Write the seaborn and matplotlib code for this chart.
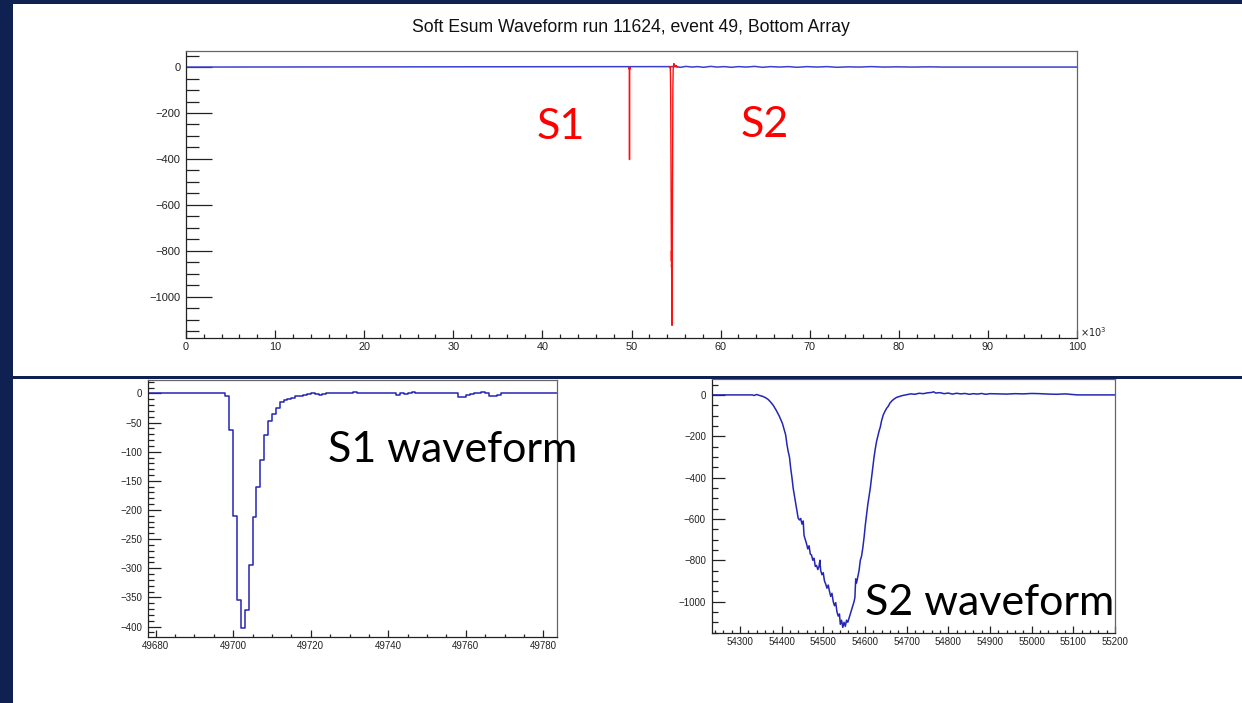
import matplotlib
matplotlib.use("Agg")
import numpy as np
import pandas as pd
import matplotlib.pyplot as plt
import seaborn as sns
from matplotlib.patches import Rectangle
from matplotlib.ticker import MultipleLocator, FixedLocator

# ---------------- data ----------------
title = "Soft Esum Waveform run 11624, event 49, Bottom Array"

# S1 waveform (sample time, amplitude), 1-sample bins
s1_time = [49678, 49680, 49681, 49698, 49699, 49700, 49701, 49702, 49703, 49704,
           49705, 49706, 49707, 49708, 49709, 49710, 49711, 49712, 49713, 49714,
           49715, 49716, 49717, 49718, 49719, 49720, 49721, 49722, 49723, 49724,
           49731, 49732, 49742, 49743, 49744, 49745, 49746, 49747, 49754, 49755,
           49758, 49759, 49760, 49761, 49762, 49764, 49765, 49766, 49768, 49769, 49784]
s1_amp = [0, 1, 0, -5, -62, -210, -355, -402, -372, -295,
          -212, -160, -115, -72, -47, -35, -25, -15, -12, -9,
          -8, -5, -4, -2, -1, 0, -1, -2, -1, 0,
          2, 0, -2, 0, -1, 0, 2, 0, 1, 0,
          -7, -6, -3, -1, 0, 2, 0, -4, -2, 0, 0]

# S2 waveform (sample time, amplitude)
s2_time = [54232, 54330, 54334, 54340, 54345, 54350, 54356, 54362, 54368, 54374,
           54380, 54386, 54390, 54394, 54398, 54402, 54406, 54410, 54413, 54416,
           54419, 54422, 54425, 54428, 54431, 54434, 54437, 54440, 54443, 54446,
           54449, 54452, 54454, 54457, 54460, 54463, 54466, 54469, 54472, 54475,
           54478, 54481, 54484, 54487, 54490, 54492, 54494, 54497, 54500, 54503,
           54506, 54509, 54512, 54515, 54518, 54521, 54524, 54527, 54530, 54533,
           54536, 54539, 54541, 54544, 54547, 54550, 54553, 54556, 54559, 54562,
           54565, 54568, 54571, 54574, 54576, 54578, 54580, 54583, 54586, 54589,
           54592, 54595, 54598, 54601, 54604, 54607, 54610, 54613, 54616, 54619,
           54622, 54625, 54628, 54631, 54634, 54637, 54640, 54644, 54648, 54652,
           54656, 54660, 54665, 54670, 54676, 54682, 54690, 54700, 54710, 54720,
           54730, 54740, 54750, 54760, 54765, 54770, 54780, 54790, 54800, 54810,
           54820, 54830, 54840, 54850, 54860, 54870, 54880, 54890, 54900, 54920,
           54940, 54960, 54980, 55000, 55020, 55040, 55060, 55080, 55100, 55110, 55200]
s2_amp = [0, 0, -3, 2, -1, -4, -8, -14, -22, -35,
          -50, -70, -85, -100, -118, -137, -165, -194, -240, -274,
          -300, -355, -400, -452, -490, -525, -560, -597, -605, -598,
          -625, -610, -680, -700, -720, -745, -730, -770, -775, -800,
          -790, -830, -825, -845, -830, -800, -850, -870, -860, -900,
          -915, -935, -920, -950, -975, -960, -1000, -1020, -1005, -1050,
          -1070, -1060, -1110, -1090, -1125, -1100, -1120, -1090, -1100, -1080,
          -1060, -1040, -1020, -1000, -980, -890, -910, -880, -850, -800,
          -780, -740, -690, -630, -580, -530, -490, -450, -400, -350,
          -300, -260, -225, -200, -175, -155, -125, -97, -80, -65,
          -55, -40, -28, -20, -12, -8, -3, 1, 5, 3,
          8, 6, 10, 12, 15, 9, 11, 6, 9, 4,
          8, 5, 7, 3, 6, 4, 7, 3, 6, 5,
          4, 6, 5, 7, 6, 4, 3, 5, 2, 0, 0]

# overview baseline (x in units of 10^3 samples)
base_k = [0.0, 55.0, 55.5, 56.1, 56.8, 57.4, 58.1, 58.9, 59.6, 60.4, 61.2, 62.0,
          62.9, 63.8, 64.7, 65.6, 66.6, 67.6, 68.6, 69.7, 70.8, 71.9, 73.1, 74.3,
          75.6, 76.9, 78.3, 79.8, 81.5, 83.4, 85.0, 100.0]
base_v = [0, 2, -1, 3, 0, 2, -1, 3, 0, 2, -1, 2,
          0, 3, -1, 2, 0, 2, -1, 2, 0, 2, -1, 1,
          0, 2, 0, 1, 0, 1, 0, 0]

top_yticks = [0, -200, -400, -600, -800, -1000]
top_xticks = [0, 10, 20, 30, 40, 50, 60, 70, 80, 90, 100]
s1_xticks = [49680, 49700, 49720, 49740, 49760, 49780]
s1_yticks = [0, -50, -100, -150, -200, -250, -300, -350, -400]
s2_xticks = [54300, 54400, 54500, 54600, 54700, 54800, 54900, 55000, 55100, 55200]
s2_yticks = [0, -200, -400, -600, -800, -1000]

# ---------------- style ----------------
sns.set_theme(style="white")
plt.rcParams['font.family'] = ['Liberation Sans', 'DejaVu Sans']
plt.rcParams['axes.unicode_minus'] = True

W, H = 1242, 703
fig = plt.figure(figsize=(W / 100, H / 100), dpi=100)
fig.patch.set_facecolor('white')
navy = '#0e2151'
fig.patches.append(Rectangle((0, 0), 13 / W, 1, transform=fig.transFigure,
                             facecolor=navy, edgecolor='none', zorder=0))
fig.patches.append(Rectangle((0, 1 - 4 / H), 1, 4 / H, transform=fig.transFigure,
                             facecolor=navy, edgecolor='none', zorder=0))
fig.patches.append(Rectangle((13 / W, 1 - 378.5 / H), 1, 2.8 / H, transform=fig.transFigure,
                             facecolor=navy, edgecolor='none', zorder=0))


def px_axes(left, top, right, bottom):
    return fig.add_axes([left / W, 1 - bottom / H, (right - left) / W, (bottom - top) / H])


def root_style(ax, xmaj_len, xmin_len, ymaj_len, ymin_len, xsize=7, ysize=7, xpad=3, ypad=5):
    for sp in ax.spines.values():
        sp.set_color('#666666')
        sp.set_linewidth(0.9)
    ax.spines['left'].set_color('#222222')
    ax.spines['bottom'].set_color('#222222')
    ax.tick_params(axis='both', which='both', direction='in', top=False, right=False,
                   left=True, bottom=True, colors='#222222', width=0.9)
    ax.tick_params(axis='x', which='major', length=xmaj_len, pad=xpad, labelsize=xsize)
    ax.tick_params(axis='x', which='minor', length=xmin_len)
    ax.tick_params(axis='y', which='major', length=ymaj_len, pad=ypad, labelsize=ysize)
    ax.tick_params(axis='y', which='minor', length=ymin_len)
    ax.set_xlabel('')
    ax.set_ylabel('')
    ax.grid(False)


blue_top = '#3a3fcf'
blue_zoom = '#2426b4'
big_font = ['Lato', 'DejaVu Sans']

# ---------------- top panel ----------------
ax0 = px_axes(186, 51, 1077, 337.5)
sns.lineplot(x=base_k, y=base_v, ax=ax0, color=blue_top, lw=1.1,
             estimator=None, sort=False)
s1_k = [t / 1000 for t in s1_time]
s2_k = [t / 1000 for t in s2_time]
sns.lineplot(x=s1_k, y=s1_amp, ax=ax0, color='#ff1010', lw=1.0,
             estimator=None, sort=False, drawstyle='steps-post')
sns.lineplot(x=s2_k, y=s2_amp, ax=ax0, color='#ff1010', lw=1.0,
             estimator=None, sort=False)
ax0.set_xlim(0, 100)
ax0.set_ylim(-1178, 70)
ax0.xaxis.set_major_locator(FixedLocator(top_xticks))
ax0.xaxis.set_minor_locator(MultipleLocator(2))
ax0.yaxis.set_major_locator(FixedLocator(top_yticks))
ax0.yaxis.set_minor_locator(MultipleLocator(50))
ax0.set_xticklabels([str(v) for v in top_xticks])
root_style(ax0, 6, 3, 19, 9.5, xsize=7.8, ysize=8, xpad=3.5, ypad=4)
ax0.text(1.003, 0.018, r'$\times10^{3}$', transform=ax0.transAxes, ha='left', va='center',
         fontsize=7, color='#222222')
fig.text(631 / W, 1 - 27 / H, title, ha='center', va='center', fontsize=12.7, color='#111111')

fig.text(561 / W, 1 - 127 / H, 'S1', ha='center', va='center',
         fontsize=31, color='#ff0000', family=big_font)
fig.text(765 / W, 1 - 125 / H, 'S2', ha='center', va='center',
         fontsize=31, color='#ff0000', family=big_font)

# ---------------- S1 zoom ----------------
ax1 = px_axes(147.5, 380, 557, 637)
sns.lineplot(x=s1_time, y=s1_amp, ax=ax1, color=blue_zoom, lw=1.1,
             estimator=None, sort=False, drawstyle='steps-post')
ax1.set_xlim(49677.9, 49783.5)
ax1.set_ylim(-418, 23)
ax1.xaxis.set_major_locator(FixedLocator(s1_xticks))
ax1.xaxis.set_minor_locator(MultipleLocator(5))
ax1.yaxis.set_major_locator(FixedLocator(s1_yticks))
ax1.yaxis.set_minor_locator(MultipleLocator(10))
root_style(ax1, 5, 2.5, 9, 4.5, xsize=7, ysize=7, xpad=3, ypad=4)
fig.text(328 / W, 1 - 450 / H, 'S1 waveform', ha='left', va='center', fontsize=31,
         color='#000000', family=big_font)

# ---------------- S2 zoom ----------------
ax2 = px_axes(711.5, 379, 1115, 633)
sns.lineplot(x=s2_time, y=s2_amp, ax=ax2, color=blue_zoom, lw=1.1,
             estimator=None, sort=False)
ax2.set_xlim(54232, 55200)
ax2.set_ylim(-1152, 77)
ax2.xaxis.set_major_locator(FixedLocator(s2_xticks))
ax2.xaxis.set_minor_locator(MultipleLocator(20))
ax2.yaxis.set_major_locator(FixedLocator(s2_yticks))
ax2.yaxis.set_minor_locator(MultipleLocator(50))
root_style(ax2, 5, 2.5, 9, 4.5, xsize=7, ysize=7, xpad=3, ypad=4)
fig.text(865 / W, 1 - 603 / H, 'S2 waveform', ha='left', va='center', fontsize=31,
         color='#000000', family=big_font)

fig.savefig('out.png', dpi=100, facecolor=fig.get_facecolor())
